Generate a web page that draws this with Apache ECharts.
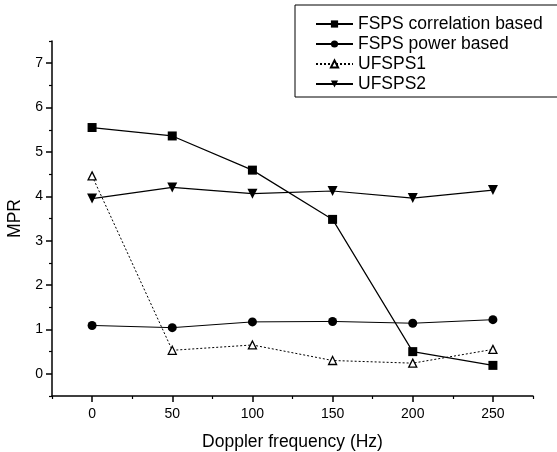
<!DOCTYPE html>
<html>
<head>
<meta charset="utf-8">
<script src="https://cdn.jsdelivr.net/npm/echarts@6/dist/echarts.min.js"></script>
<style>
  html, body { margin: 0; padding: 0; background: #fff; }
  #chart { width: 557px; height: 452px; }
</style>
</head>
<body>
<div id="chart"></div>
<script>
// doppler frequency (Hz)
const freqs = [0, 50, 100, 150, 200, 250];
const fspsCorr = [5.55, 5.36, 4.59, 3.48, 0.50, 0.19];
const fspsPower = [1.09, 1.04, 1.17, 1.18, 1.14, 1.22];
const ufsps1 = [4.46, 0.53, 0.65, 0.30, 0.24, 0.55];
const ufsps2 = [3.95, 4.20, 4.06, 4.12, 3.96, 4.14];

const xMajor = [0, 50, 100, 150, 200, 250];
const xMinor = [-25, 25, 75, 125, 175, 225, 275];
const yMajor = [0, 1, 2, 3, 4, 5, 6, 7];
const yMinor = [-0.5, 0.5, 1.5, 2.5, 3.5, 4.5, 5.5, 6.5, 7.5];

const font = 'Liberation Sans, Arial, sans-serif';

function pairs(vals) {
  return freqs.map((f, i) => [f, vals[i]]);
}

const chart = echarts.init(document.getElementById('chart'));

const option = {
  animation: false,
  grid: { left: 52, right: 24, top: 41, bottom: 56, outerBoundsMode: 'none', containLabel: false },
  legend: {
    orient: 'vertical',
    left: 295,
    top: 5,
    padding: [9, 30, 3, 20],
    itemGap: 0,
    itemWidth: 37,
    itemHeight: 9,
    borderColor: '#000',
    borderWidth: 1,
    textStyle: { fontFamily: font, fontSize: 17.5, color: '#000', lineHeight: 20 },
    data: ['FSPS correlation based', 'FSPS power based', 'UFSPS1', 'UFSPS2']
  },
  xAxis: [{
    type: 'value',
    min: -25,
    max: 275,
    name: 'Doppler frequency (Hz)',
    nameLocation: 'middle',
    nameGap: 37,
    nameTextStyle: { fontFamily: font, fontSize: 17.5, color: '#000' },
    axisLine: { onZero: false, lineStyle: { color: '#000', width: 1.5 } },
    axisTick: { customValues: xMajor, length: 6, lineStyle: { color: '#000', width: 1.5 } },
    axisLabel: { customValues: xMajor, fontFamily: font, fontSize: 14, color: '#000', margin: 11 },
    splitLine: { show: false }
  }, {
    type: 'value',
    min: -25,
    max: 275,
    position: 'bottom',
    axisLine: { show: false, onZero: false },
    axisTick: { customValues: xMinor, length: 3, lineStyle: { color: '#000', width: 1.2 } },
    axisLabel: { show: false },
    splitLine: { show: false }
  }],
  yAxis: [{
    type: 'value',
    min: -0.5,
    max: 7.5,
    name: 'MPR',
    nameLocation: 'middle',
    nameGap: 26,
    nameTextStyle: { fontFamily: font, fontSize: 17.5, color: '#000' },
    axisLine: { show: true, onZero: false, lineStyle: { color: '#000', width: 1.5 } },
    axisTick: { show: true, customValues: yMajor, length: 6, lineStyle: { color: '#000', width: 1.5 } },
    axisLabel: { customValues: yMajor, fontFamily: font, fontSize: 14, color: '#000', margin: 9 },
    splitLine: { show: false }
  }, {
    type: 'value',
    min: -0.5,
    max: 7.5,
    position: 'left',
    axisLine: { show: false, onZero: false },
    axisTick: { show: true, customValues: yMinor, length: 3, lineStyle: { color: '#000', width: 1.2 } },
    axisLabel: { show: false },
    splitLine: { show: false }
  }],
  series: [
    {
      name: 'FSPS correlation based',
      type: 'line',
      data: pairs(fspsCorr),
      symbol: 'rect',
      symbolSize: 9,
      lineStyle: { color: '#000', width: 1.2 },
      itemStyle: { color: '#000' }
    },
    {
      name: 'FSPS power based',
      type: 'line',
      data: pairs(fspsPower),
      symbol: 'circle',
      symbolSize: 9,
      lineStyle: { color: '#000', width: 1 },
      itemStyle: { color: '#000' }
    },
    {
      name: 'UFSPS1',
      type: 'line',
      data: pairs(ufsps1),
      symbol: 'triangle',
      symbolSize: 8,
      lineStyle: { color: '#000', width: 1, type: [2, 2] },
      itemStyle: { color: '#fff', borderColor: '#000', borderWidth: 1.3 }
    },
    {
      name: 'UFSPS2',
      type: 'line',
      data: pairs(ufsps2),
      symbol: 'triangle',
      symbolRotate: 180,
      symbolSize: 10,
      lineStyle: { color: '#000', width: 1.2 },
      itemStyle: { color: '#000' }
    }
  ]
};

chart.setOption(option);
</script>
</body>
</html>
